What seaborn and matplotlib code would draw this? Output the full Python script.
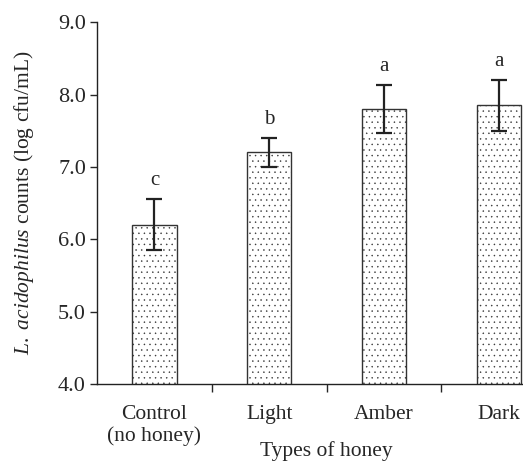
import pandas as pd
import matplotlib.pyplot as plt
import seaborn as sns

# Datos
categorias = ['Control\n(no honey)', 'Light', 'Amber', 'Dark']
medias = [6.2, 7.2, 7.8, 7.85]
errores = [0.35, 0.2, 0.33, 0.35]
letras = ['c', 'b', 'a', 'a']

df = pd.DataFrame({'tipo': categorias, 'conteo': medias})

sns.set_style('ticks')
plt.rcParams['font.family'] = ['Liberation Serif', 'DejaVu Serif']
plt.rcParams['mathtext.fontset'] = 'custom'
plt.rcParams['mathtext.rm'] = 'Liberation Serif'
plt.rcParams['mathtext.it'] = 'Liberation Serif:italic'
plt.rcParams['hatch.color'] = '#b4b4b4'
plt.rcParams['hatch.linewidth'] = 0.3

fig = plt.figure(figsize=(5.23, 4.62), dpi=100)
ax = fig.add_axes([0.1855, 0.169, 0.878, 0.783])

sns.barplot(data=df, x='tipo', y='conteo', color='white', width=0.385,
            edgecolor='#333333', linewidth=1.0, ax=ax)
for p in ax.patches:
    p.set_hatch('...')

ax.errorbar(range(len(medias)), medias, yerr=errores, fmt='none',
            ecolor='#222222', elinewidth=1.6, capsize=6, capthick=1.6)

for i, (m, e, l) in enumerate(zip(medias, errores, letras)):
    ax.text(i, m + e + 0.13, l, ha='center', va='bottom', fontsize=15)

ax.set_ylim(4.0, 9.0)
ax.set_xlim(-0.5, 3.5)
ax.set_yticks([4, 5, 6, 7, 8, 9])
ax.set_yticklabels([f'{v:.1f}' for v in [4, 5, 6, 7, 8, 9]])
ax.set_xticks([0.5, 1.5, 2.5])
ax.set_xticklabels([])
ax.set_xticks(range(4), labels=categorias, minor=True)
ax.tick_params(axis='x', which='minor', length=0, pad=15, labelsize=15.5)
ax.tick_params(axis='x', which='major', length=6, width=1.0, direction='out')
ax.tick_params(axis='y', length=5, width=1.0, labelsize=16, pad=3)

sns.despine(ax=ax)
for s in ['left', 'bottom']:
    ax.spines[s].set_linewidth(1.0)
    ax.spines[s].set_color('#222222')

ax.set_xlabel('Types of honey', fontsize=15.5, labelpad=-4)
ax.set_ylabel(r'$L.\ acidophilus$ counts (log cfu/mL)', fontsize=15.5, labelpad=16)

plt.savefig('out.png', dpi=100)
